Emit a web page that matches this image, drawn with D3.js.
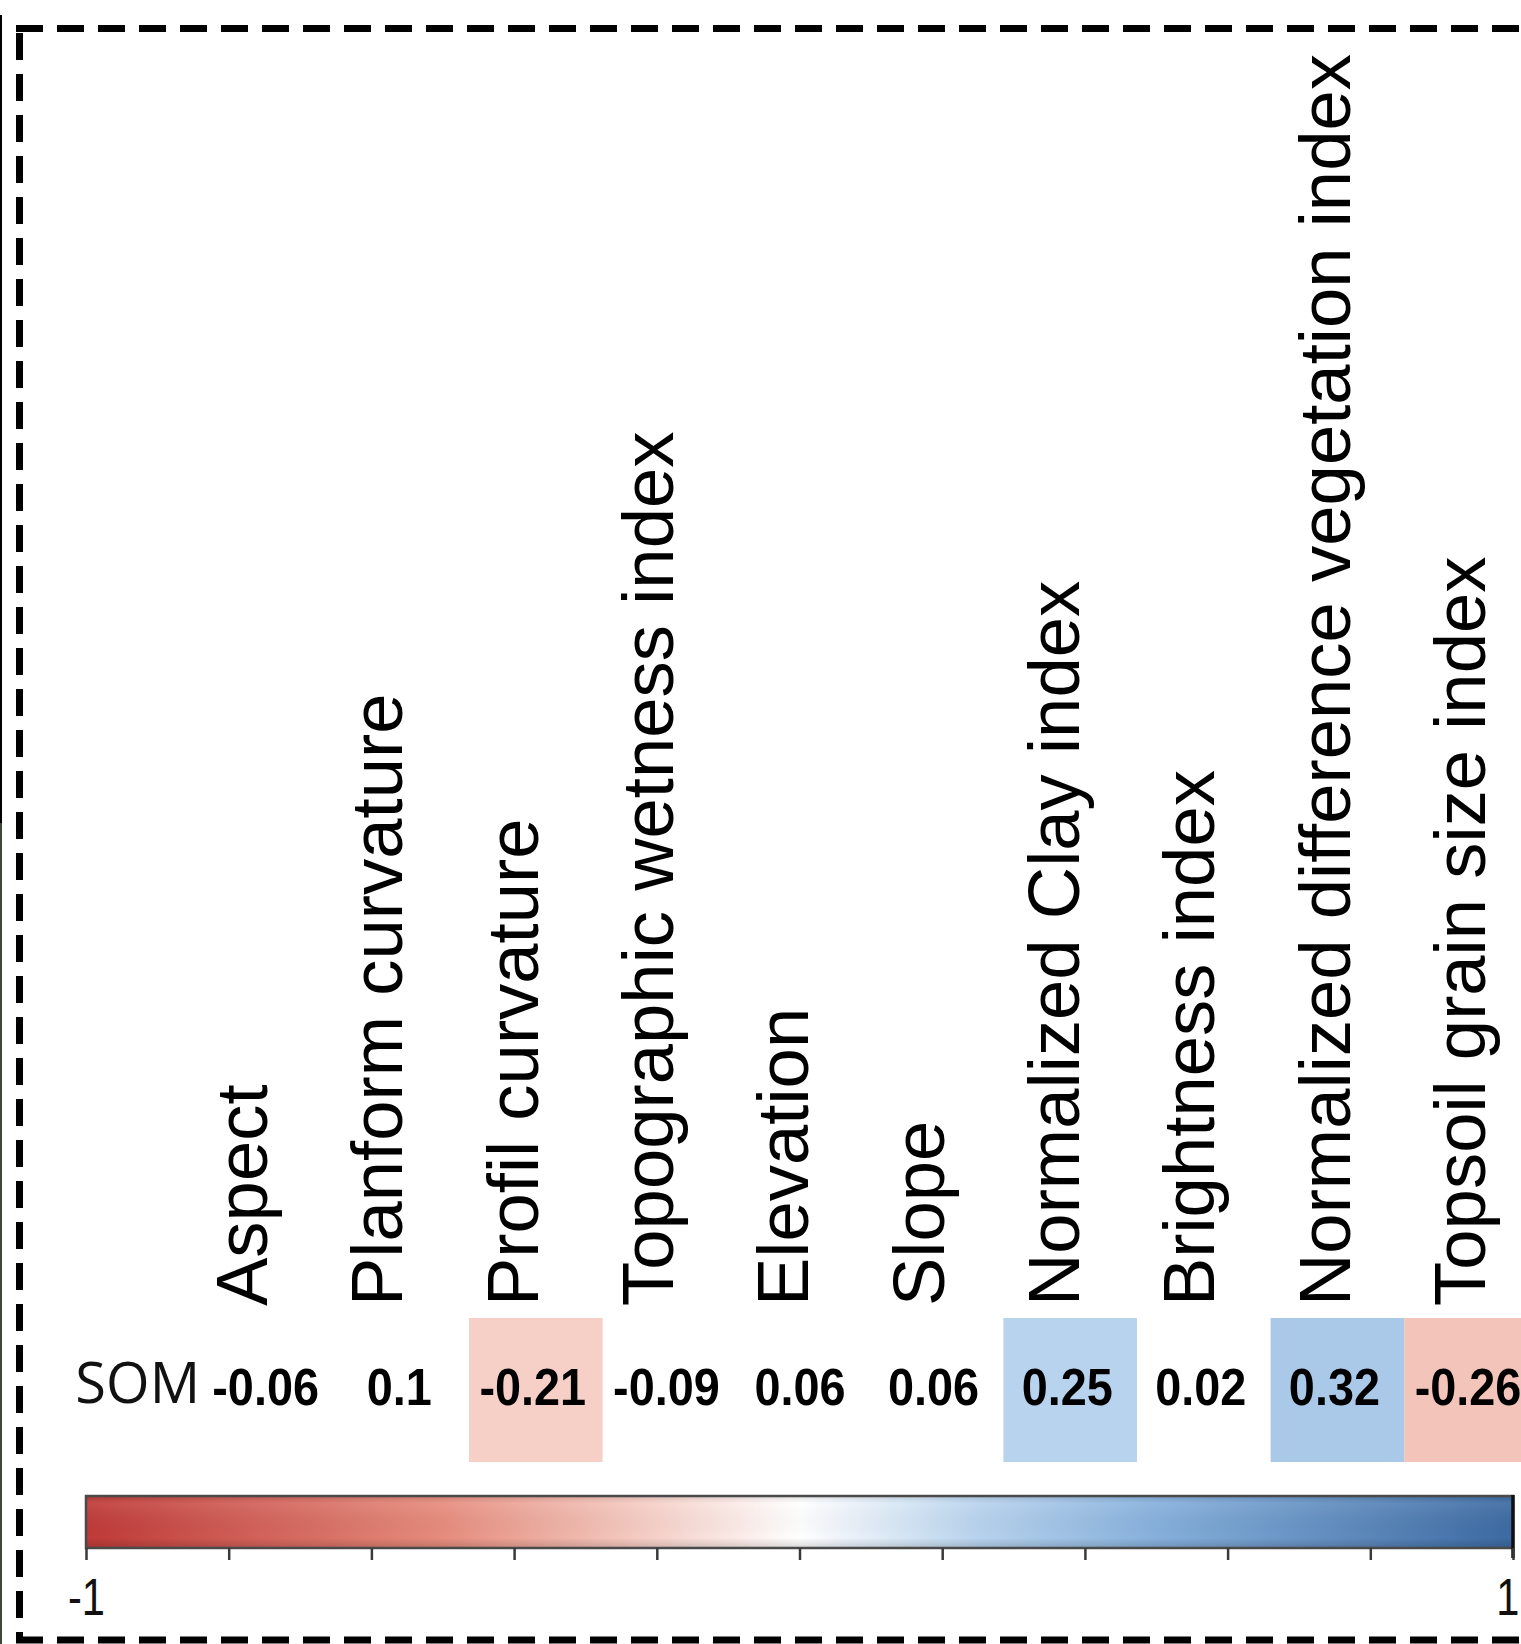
<!DOCTYPE html>
<html>
<head>
<meta charset="utf-8">
<script src="https://cdn.jsdelivr.net/npm/d3@7"></script>
<style>
  html, body { margin: 0; padding: 0; background: #ffffff; }
  svg { display: block; }
</style>
</head>
<body>
<div id="chart"></div>
<script>
// Correlation of soil organic matter (SOM) with environmental covariates
const covariates = [
  "Aspect",
  "Planform curvature",
  "Profil curvature",
  "Topographic wetness index",
  "Elevation",
  "Slope",
  "Normalized Clay index",
  "Brightness index",
  "Normalized difference vegetation index",
  "Topsoil grain size index"
];
const rowLabel = "SOM";
const somCorrelation = [-0.06, 0.1, -0.21, -0.09, 0.06, 0.06, 0.25, 0.02, 0.32, -0.26];
const significant = [false, false, true, false, false, false, true, false, true, true];
const legendTicks = [-1, -0.8, -0.6, -0.4, -0.2, 0, 0.2, 0.4, 0.6, 0.8, 1];
const legendTickLabels = ["-1", "", "", "", "", "", "", "", "", "", "1"];

const W = 1521, H = 1644;

const svg = d3.select("#chart").append("svg")
  .attr("width", W).attr("height", H)
  .attr("viewBox", `0 0 ${W} ${H}`);

svg.append("rect").attr("width", W).attr("height", H).attr("fill", "#ffffff");

// diverging red-white-blue colour scale
const color = d3.scaleLinear()
  .domain([-1, -0.5, -0.25, 0, 0.25, 0.5, 1])
  .range(["#bf3a38", "#e68c7d", "#f4c6bc", "#ffffff", "#b8d3ee", "#86b0dc", "#3c6aa2"])
  .interpolate(d3.interpolateRgb);

// cell columns
const x = d3.scaleBand()
  .domain(covariates)
  .range([201.8, 201.8 + 10 * 133.6]);

// rotated column headers
const labelX = d3.scalePoint()
  .domain(covariates)
  .range([267, 1485]);

const cellTop = 1318, cellH = 144;

const data = covariates.map((c, i) => ({ name: c, value: somCorrelation[i], sig: significant[i] }));

// cells
svg.append("g").selectAll("rect")
  .data(data.filter(d => d.sig))
  .join("rect")
  .attr("x", d => x(d.name))
  .attr("y", cellTop)
  .attr("width", x.bandwidth())
  .attr("height", cellH)
  .attr("fill", d => color(d.value));

// column headers
svg.append("g").selectAll("text")
  .data(data)
  .join("text")
  .attr("transform", d => `translate(${labelX(d.name)},1306) rotate(-90)`)
  .attr("text-anchor", "start")
  .attr("font-family", "'Liberation Sans', Arial, sans-serif")
  .attr("font-size", 72.5)
  .attr("fill", "#000")
  .text(d => d.name);

// correlation values
svg.append("g").selectAll("text")
  .data(data)
  .join("text")
  .attr("transform", d => `translate(${x(d.name) + x.bandwidth() / 2 - 3},1405) scale(0.9,1)`)
  .attr("text-anchor", "middle")
  .attr("font-family", "'Liberation Sans', Arial, sans-serif")
  .attr("font-weight", "bold")
  .attr("font-size", 52)
  .attr("fill", "#000")
  .text(d => d.value);

// row label
svg.append("text")
  .attr("x", 200).attr("y", 1403)
  .attr("text-anchor", "end")
  .attr("font-family", "'Open Sans', sans-serif")
  .attr("font-size", 56)
  .attr("fill", "#111")
  .text(rowLabel);

// colour bar
const legendX = d3.scaleLinear().domain([-1, 1]).range([86, 1513]);
const barTop = 1496, barH = 52;

const defs = svg.append("defs");
const grad = defs.append("linearGradient").attr("id", "bar-grad")
  .attr("x1", "0%").attr("x2", "100%").attr("y1", "0%").attr("y2", "0%");
d3.range(0, 41).forEach(k => {
  const v = -1 + k / 20;
  grad.append("stop").attr("offset", `${k / 40 * 100}%`).attr("stop-color", color(v));
});
const shade = defs.append("linearGradient").attr("id", "bar-shade")
  .attr("x1", "0").attr("x2", "0").attr("y1", "0").attr("y2", "1");
shade.append("stop").attr("offset", "0%").attr("stop-color", "#000").attr("stop-opacity", 0.12);
shade.append("stop").attr("offset", "15%").attr("stop-color", "#fff").attr("stop-opacity", 0.08);
shade.append("stop").attr("offset", "80%").attr("stop-color", "#000").attr("stop-opacity", 0.0);
shade.append("stop").attr("offset", "100%").attr("stop-color", "#000").attr("stop-opacity", 0.15);

svg.append("rect")
  .attr("x", legendX(-1)).attr("y", barTop)
  .attr("width", legendX(1) - legendX(-1)).attr("height", barH)
  .attr("fill", "url(#bar-grad)");
svg.append("rect")
  .attr("x", legendX(-1)).attr("y", barTop)
  .attr("width", legendX(1) - legendX(-1)).attr("height", barH)
  .attr("fill", "url(#bar-shade)")
  .attr("stroke", "#4a4a4a").attr("stroke-width", 2.5);
svg.append("line")
  .attr("x1", legendX(1)).attr("x2", legendX(1))
  .attr("y1", barTop - 1).attr("y2", barTop + barH + 10)
  .attr("stroke", "#111").attr("stroke-width", 3.5);

const axis = d3.axisBottom(legendX)
  .tickValues(legendTicks)
  .tickSize(12)
  .tickFormat((d, i) => legendTickLabels[i]);

const axisG = svg.append("g")
  .attr("transform", `translate(0,${barTop + barH})`)
  .call(axis);
axisG.select(".domain").remove();
axisG.selectAll(".tick line").attr("stroke", "#3a3a3a").attr("stroke-width", 2.5);
axisG.selectAll(".tick text")
  .attr("y", 67).attr("dy", null)
  .attr("transform", "scale(0.8,1)")
  .attr("font-family", "'Liberation Sans', Arial, sans-serif")
  .attr("font-size", 52)
  .attr("fill", "#111");
// keep the end label inside the page edge
axisG.selectAll(".tick text")
  .filter((d, i) => i === legendTicks.length - 1)
  .attr("text-anchor", "end")
  .attr("x", (W - 2 - legendX(1)) / 0.8);

// dashed frame
const frame = svg.append("g")
  .attr("stroke", "#000")
  .attr("stroke-width", 7)
  .attr("stroke-dasharray", "27,14")
  .attr("fill", "none");
frame.append("line").attr("x1", 16).attr("x2", W + 20).attr("y1", 28.5).attr("y2", 28.5);
frame.append("line").attr("x1", 19.5).attr("x2", 19.5).attr("y1", 25).attr("y2", 1643)
  .attr("stroke-dashoffset", -8);
frame.append("line").attr("x1", 16).attr("x2", W + 20).attr("y1", 1640).attr("y2", 1640);

// thin outer edge on the left
svg.append("line").attr("x1", 1).attr("x2", 1).attr("y1", 15).attr("y2", 823)
  .attr("stroke", "#000").attr("stroke-width", 2);
svg.append("line").attr("x1", 1).attr("x2", 1).attr("y1", 823).attr("y2", H)
  .attr("stroke", "#3c473c").attr("stroke-width", 2);
</script>
</body>
</html>
